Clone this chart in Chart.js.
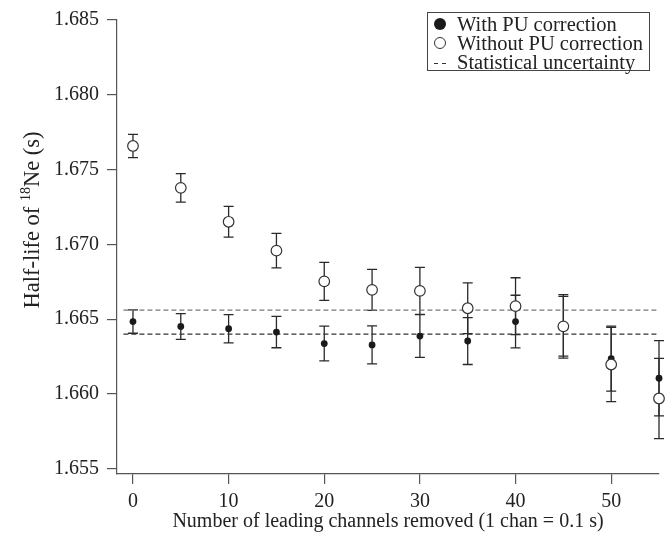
<!DOCTYPE html>
<html>
<head>
<meta charset="utf-8">
<script src="https://cdn.jsdelivr.net/npm/chart.js@4.4.1/dist/chart.umd.min.js"></script>
<style>
    html, body { margin: 0; padding: 0; background: #fff; }
    #quadro { position: relative; width: 667px; height: 542px; }
    #legenda {
        position: absolute; left: 427px; top: 12px; width: 223px; height: 59px;
        box-sizing: border-box; border: 1px solid #444; background: #fff;
        font: 20.5px 'Liberation Serif', 'Times New Roman', serif; color: #222;
    }
    .linha { position: absolute; left: 0; height: 19px; line-height: 19px; white-space: nowrap; }
    .linha span.txt { position: absolute; left: 29px; top: 0; }
    .marca { position: absolute; box-sizing: border-box; border-radius: 50%; }
    .cheia { left: 6px; top: 3px; width: 12px; height: 12px; background: #1a1a1a; }
    .vazia { left: 6px; top: 3px; width: 12px; height: 12px; border: 1px solid #333; background: #fff; }
    .traco { position: absolute; top: 10px; width: 4px; height: 0; border-top: 1.2px solid #333; }
</style>
</head>
<body>
<div id="quadro">
    <canvas id="grafico" width="667" height="542"></canvas>
    <div id="legenda">
        <div class="linha" style="top:2px"><span class="marca cheia"></span><span class="txt">With PU correction</span></div>
        <div class="linha" style="top:21px"><span class="marca vazia"></span><span class="txt">Without PU correction</span></div>
        <div class="linha" style="top:40px"><span class="traco" style="left:6px"></span><span class="traco" style="left:14px"></span><span class="txt">Statistical uncertainty</span></div>
    </div>
</div>
<script>
// ================= DADOS =================
const canais = [0, 5, 10, 15, 20, 25, 30, 35, 40, 45, 50, 55]

// Meia-vida com correção de empilhamento (PU) e barras de erro
const comCorrecao = [1.66484, 1.66451, 1.66436, 1.66414, 1.66337, 1.66328, 1.66387, 1.66354, 1.66484, 1.66453, 1.66236, 1.66105]
const erroComCorrecao = [0.00078, 0.00086, 0.00095, 0.00105, 0.00116, 0.00127, 0.00143, 0.00157, 0.00176, 0.00200, 0.00217, 0.00251]

// Meia-vida sem correção
const semCorrecao = [1.67658, 1.67378, 1.67151, 1.66958, 1.66753, 1.66696, 1.66689, 1.66573, 1.66587, 1.66452, 1.66197, 1.65970]
const erroSemCorrecao = [0.00078, 0.00095, 0.00103, 0.00115, 0.00127, 0.00137, 0.00157, 0.00170, 0.00190, 0.00212, 0.00248, 0.00268]

// Faixa da incerteza estatística (linhas tracejadas)
const incertezaSuperior = 1.6656
const incertezaInferior = 1.6640
const faixaIncertezaX = [-1, 55]

// Marcas dos eixos
const ticksX = [0, 10, 20, 30, 40, 50]
const ticksY = [1.655, 1.660, 1.665, 1.670, 1.675, 1.680, 1.685]

// ================= ESTILO =================
const FONTE = "'Liberation Serif', 'Times New Roman', serif"
Chart.defaults.font.family = FONTE
Chart.defaults.font.size = 20
Chart.defaults.color = '#222'

const corEixo = '#555'

// ================= PLUGINS =================

/**
 * Desenha as barras de erro (antes dos pontos, para os círculos ficarem por cima)
 */
const barrasDeErro = {
    id: 'barrasDeErro',
    beforeDatasetsDraw(chart) {
        const { ctx, scales: { x, y } } = chart
        const series = [
            { valores: comCorrecao, erros: erroComCorrecao },
            { valores: semCorrecao, erros: erroSemCorrecao }
        ]
        ctx.save()
        ctx.strokeStyle = '#2a2a2a'
        ctx.lineWidth = 1.3
        series.forEach(s => {
            canais.forEach((c, i) => {
                const px = x.getPixelForValue(c)
                const topo = y.getPixelForValue(s.valores[i] + s.erros[i])
                const base = y.getPixelForValue(s.valores[i] - s.erros[i])
                ctx.beginPath()
                ctx.moveTo(px, topo)
                ctx.lineTo(px, base)
                ctx.moveTo(px - 5, topo)
                ctx.lineTo(px + 5, topo)
                ctx.moveTo(px - 5, base)
                ctx.lineTo(px + 5, base)
                ctx.stroke()
            })
        })
        ctx.restore()
    }
}

/**
 * Título do eixo Y com o "18" sobrescrito
 */
const tituloEixoY = {
    id: 'tituloEixoY',
    afterDraw(chart) {
        const { ctx } = chart
        const fonteNormal = '22.5px ' + FONTE
        const fonteSobrescrito = '14px ' + FONTE
        ctx.save()
        ctx.fillStyle = '#222'
        ctx.font = fonteNormal
        const w1 = ctx.measureText('Half-life of ').width
        const w3 = ctx.measureText('Ne (s)').width
        ctx.font = fonteSobrescrito
        const w2 = ctx.measureText('18').width
        let cx = -(w1 + w2 + w3) / 2

        ctx.translate(39, 220)
        ctx.rotate(-Math.PI / 2)
        ctx.textBaseline = 'alphabetic'
        ctx.font = fonteNormal
        ctx.fillText('Half-life of ', cx, 0)
        cx += w1
        ctx.font = fonteSobrescrito
        ctx.fillText('18', cx, -9)
        cx += w2
        ctx.font = fonteNormal
        ctx.fillText('Ne (s)', cx, 0)
        ctx.restore()
    }
}

// ================= GRÁFICO =================
const pontos = valores => canais.map((c, i) => ({ x: c, y: valores[i] }))
const linhaHorizontal = v => faixaIncertezaX.map(px => ({ x: px, y: v }))

const estiloEixo = {
    grid: { display: true, drawOnChartArea: false, drawTicks: true, tickLength: 10, color: corEixo, lineWidth: 1.2 },
    border: { display: true, color: corEixo, width: 1.2 }
}

new Chart(document.getElementById('grafico'), {
    type: 'scatter',
    data: {
        datasets: [
            {
                label: 'Without PU correction',
                data: pontos(semCorrecao),
                backgroundColor: '#fff',
                borderColor: '#333',
                borderWidth: 1.2,
                pointRadius: 5.3,
                order: 0,
                clip: false
            },
            {
                label: 'With PU correction',
                data: pontos(comCorrecao),
                backgroundColor: '#1a1a1a',
                borderColor: '#1a1a1a',
                borderWidth: 0,
                pointRadius: 3.4,
                order: 1,
                clip: false
            },
            {
                label: 'Statistical uncertainty',
                data: linhaHorizontal(incertezaSuperior),
                showLine: true,
                borderColor: '#777',
                borderWidth: 1.2,
                borderDash: [5, 3],
                pointRadius: 0,
                order: 2
            },
            {
                label: 'Statistical uncertainty',
                data: linhaHorizontal(incertezaInferior),
                showLine: true,
                borderColor: '#333',
                borderWidth: 1.2,
                borderDash: [5, 3],
                pointRadius: 0,
                order: 2
            }
        ]
    },
    options: {
        responsive: false,
        animation: false,
        layout: { autoPadding: false, padding: { top: 12, right: 8, left: 0, bottom: 0 } },
        plugins: {
            legend: { display: false },
            tooltip: { enabled: false }
        },
        scales: {
            x: {
                type: 'linear',
                min: -1.67,
                max: 55,
                ...estiloEixo,
                afterBuildTicks: s => { s.ticks = ticksX.map(v => ({ value: v })) },
                afterFit: s => { s.height = 68 },
                ticks: { padding: 6, callback: v => String(v) },
                title: {
                    display: true,
                    text: 'Number of leading channels removed (1 chan = 0.1 s)',
                    font: { size: 20 },
                    padding: { top: 0, bottom: 8 }
                }
            },
            y: {
                type: 'linear',
                min: 1.65465,
                max: 1.685,
                ...estiloEixo,
                afterBuildTicks: s => { s.ticks = ticksY.map(v => ({ value: v })) },
                afterFit: s => { s.width = 117 },
                ticks: { padding: 8, callback: v => v.toFixed(3) }
            }
        }
    },
    plugins: [barrasDeErro, tituloEixoY]
})
</script>
</body>
</html>
